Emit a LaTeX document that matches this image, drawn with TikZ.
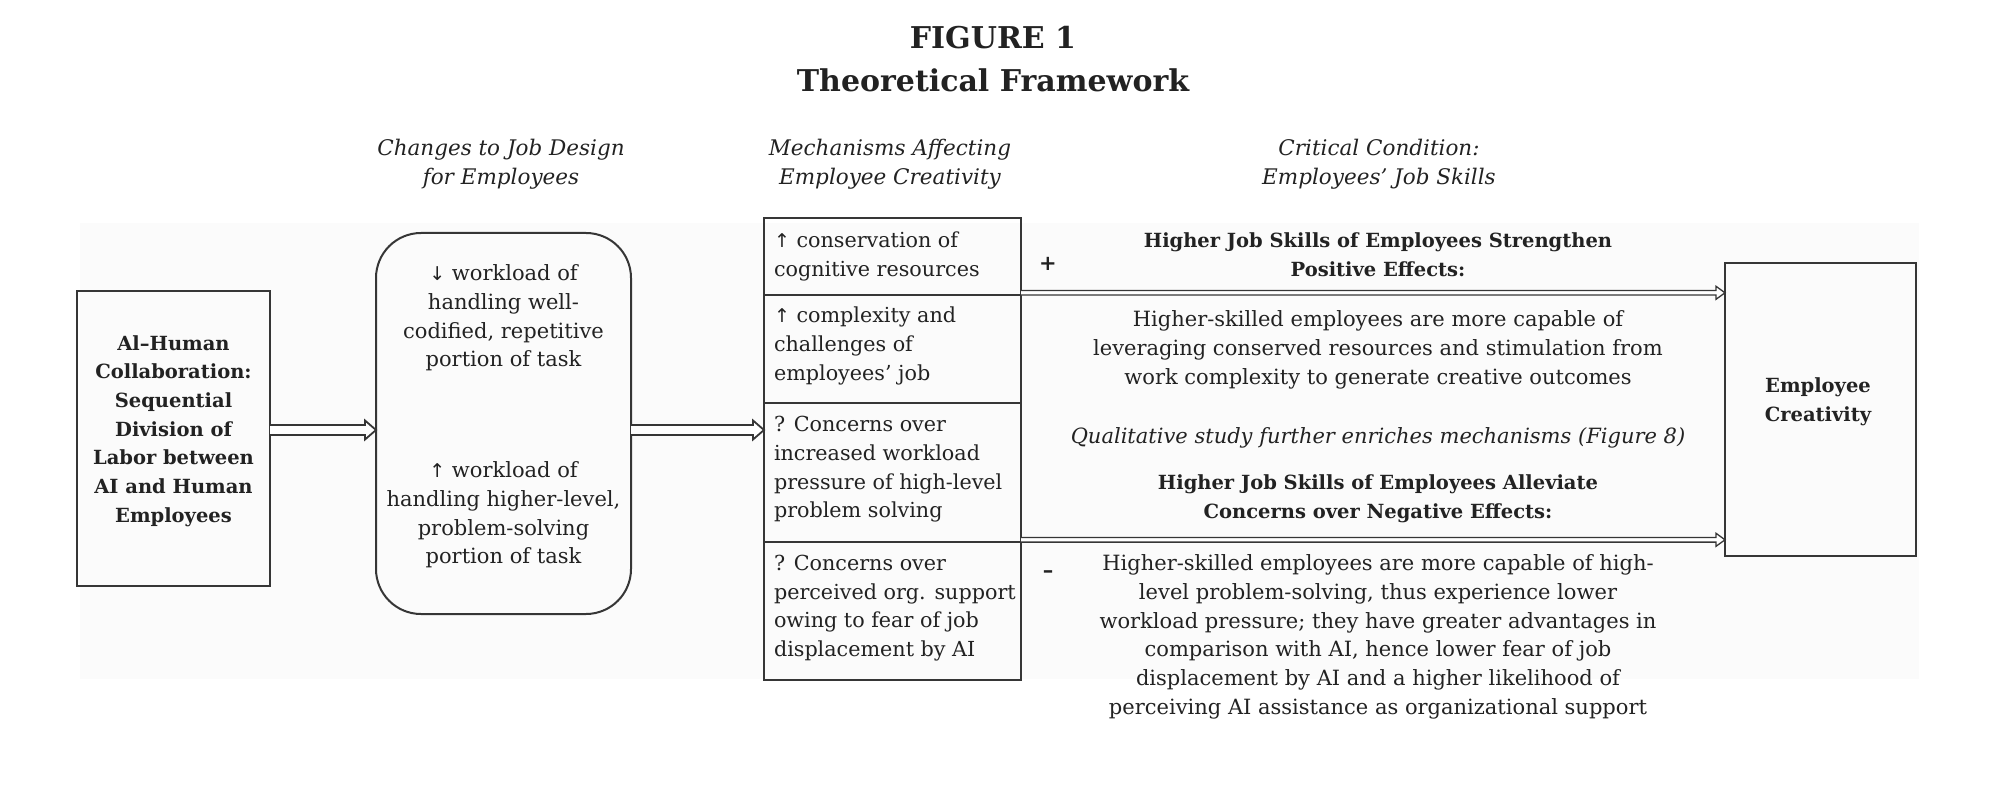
\documentclass[tikz,border=0pt]{standalone}
\usepackage{fontspec}
\setmainfont{DejaVu Serif}
\newfontfamily\symfont{DejaVu Sans}
\usetikzlibrary{calc}
\definecolor{ink}{HTML}{222222}
\definecolor{linec}{HTML}{363636}
\definecolor{bgc}{HTML}{FBFBFB}
\newcommand{\upar}{{\symfont\fontsize{19}{19}\selectfont ↑}}
\newcommand{\dnar}{{\symfont\fontsize{19}{19}\selectfont ↓}}
% hollow block arrow: #1 style, #2 start coord, #3 end coord, #4 shaft half width, #5 head half width, #6 head length
\newcommand{\hollowarr}[6]{%
  \draw[#1] ($(#2)+(0,-#4)$) -- ($(#3)+(-#6,-#4)$) -- ($(#3)+(-#6,-#5)$) -- (#3)
    -- ($(#3)+(-#6,#5)$) -- ($(#3)+(-#6,#4)$) -- ($(#2)+(0,#4)$);}
\begin{document}
\begin{tikzpicture}[x=1pt,y=-1pt,
  every node/.style={text=ink, inner sep=0pt, outer sep=0pt},
  body/.style={font=\fontsize{21}{28.7}\selectfont, align=center},
  bodyl/.style={font=\fontsize{20.7}{28.7}\selectfont, align=left},
  boldt/.style={font=\fontsize{19.5}{28.7}\selectfont\bfseries, align=center},
  hdr/.style={font=\fontsize{21.5}{29.5}\selectfont\itshape, align=center},
  ttl/.style={font=\fontsize{30}{42}\selectfont\bfseries, align=center},
  box/.style={draw=linec, line width=2pt},
  rbox/.style={draw=linec, line width=2pt, rounded corners=45pt},
  mrow/.style={draw=linec, line width=2pt, minimum width=257pt, anchor=north west},
  fatarrow/.style={draw=linec, line width=1.8pt, line join=miter, fill=white},
  thinarrow/.style={draw=linec, line width=1.3pt, line join=miter, fill=white}
]
\useasboundingbox (0,0) rectangle (2000,794);
\fill[bgc] (80,223) rectangle (1919,679);

% title
\node[ttl] (t1) at (993,38) {FIGURE 1};
\node[ttl] (t2) at (993,80) {Theoretical Framework};

% column headers
\node[hdr] (h1) at (501,164) {Changes to Job Design\\for Employees};
\node[hdr] (h2) at (890,164) {Mechanisms Affecting\\Employee Creativity};
\node[hdr] (h3) at (1379,164) {Critical Condition:\\Employees’ Job Skills};

% left box
\node[box, minimum width=193pt, minimum height=295pt] (ai) at (173.5,438.5) {};
\node[boldt] (ait) at (173.5,431) {Al–Human\\Collaboration:\\Sequential\\Division of\\Labor between\\AI and Human\\Employees};

% rounded box
\node[rbox, minimum width=255pt, minimum height=381pt] (jd) at (503.5,423.5) {};
\node[body] (jd1) at (503.5,318) {\dnar\ workload of\\handling well-\\codified, repetitive\\portion of task};
\node[body] (jd2) at (503.5,515) {\upar\ workload of\\handling higher-level,\\problem-solving\\portion of task};

% mechanisms stack
\node[mrow, minimum height=77pt] (m1) at (764,218) {};
\node[mrow, minimum height=108pt] (m2) at (m1.south west) {};
\node[mrow, minimum height=139pt] (m3) at (m2.south west) {};
\node[mrow, minimum height=138pt] (m4) at (m3.south west) {};
\node[bodyl, anchor=west] (m1t) at ([xshift=10pt]m1.west) {\upar\ conservation of\\cognitive resources};
\node[bodyl, anchor=west] (m2t) at ([xshift=10pt,yshift=3pt]m2.west) {\upar\ complexity and\\challenges of\\employees’ job};
\node[bodyl, anchor=west] (m3t) at ([xshift=10pt,yshift=3pt]m3.west) {? Concerns over\\increased workload\\pressure of high-level\\problem solving};
\node[bodyl, anchor=west] (m4t) at ([xshift=10pt,yshift=3pt]m4.west) {? Concerns over\\perceived org. support\\owing to fear of job\\displacement by AI};

% right box
\node[box, minimum width=191pt, minimum height=293pt] (ec) at (1820.5,409.5) {};
\node[boldt] (ect) at (1818,402) {Employee\\Creativity};

% signs
\node[font=\fontsize{21}{21}\selectfont\bfseries] (plus) at (1048,264) {+};
\node[font=\fontsize{21}{21}\selectfont\bfseries] (minus) at (1048,574) {–};

% right texts
\node[boldt] (b1) at (1378,255) {Higher Job Skills of Employees Strengthen\\Positive Effects:};
\node[body] (p1) at (1378,350) {Higher-skilled employees are more capable of\\leveraging conserved resources and stimulation from\\work complexity to generate creative outcomes};
\node[font=\fontsize{21}{28.7}\selectfont\itshape] (q) at (1378,437.5) {Qualitative study further enriches mechanisms (Figure 8)};
\node[boldt] (b2) at (1378,499) {Higher Job Skills of Employees Alleviate\\Concerns over Negative Effects:};
\node[body] (p2) at (1378,637) {Higher-skilled employees are more capable of high-\\level problem-solving, thus experience lower\\workload pressure; they have greater advantages in\\comparison with AI, hence lower fear of job\\displacement by AI and a higher likelihood of\\perceiving AI assistance as organizational support};

% connectors
\coordinate (ya) at (0,430);
\coordinate (yb) at (0,292.8);
\coordinate (yc) at (0,539.8);
\coordinate (a1s) at (ai.east |- ya);
\coordinate (a1e) at (jd.west |- ya);
\coordinate (a2s) at (jd.east |- ya);
\coordinate (a2e) at (m3.west |- ya);
\coordinate (a3s) at (m1.east |- yb);
\coordinate (a3e) at (ec.west |- yb);
\coordinate (a4s) at (m3.east |- yc);
\coordinate (a4e) at (ec.west |- yc);
\hollowarr{fatarrow}{a1s}{a1e}{5}{9.5}{11}
\hollowarr{fatarrow}{a2s}{a2e}{5}{9.5}{11}
\hollowarr{thinarrow}{a3s}{a3e}{2.3}{6.5}{9}
\hollowarr{thinarrow}{a4s}{a4e}{2.3}{6.5}{9}
\end{tikzpicture}
\end{document}
